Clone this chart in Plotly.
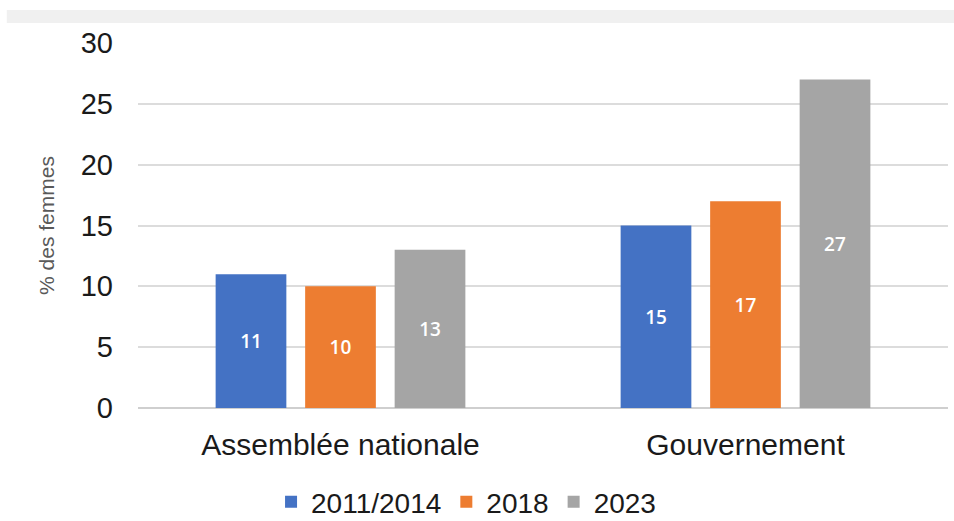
import plotly.graph_objects as go

categories = ["Assemblée nationale", "Gouvernement"]
series_names = ["2011/2014", "2018", "2023"]
values_2011_2014 = [11, 15]
values_2018 = [10, 17]
values_2023 = [13, 27]
colors = ["#4472C4", "#ED7D31", "#A5A5A5"]
y_ticks = [0, 5, 10, 15, 20, 25, 30]
y_title = "% des femmes"

fig = go.Figure()
for name, vals, col in zip(series_names, [values_2011_2014, values_2018, values_2023], colors):
    fig.add_trace(go.Bar(
        x=categories, y=vals, name=name, marker_color=col, marker_line_width=0,
        text=[str(v) for v in vals], textposition="inside", insidetextanchor="middle",
        textangle=0,
        textfont=dict(family="Open Sans", size=19, color="white", weight=600),
    ))

fig.add_shape(type="rect", xref="paper", yref="paper", x0=-0.162, x1=1.01, y0=1.0 + 20/365, y1=1.0 + 33/365,
              fillcolor="#f0f0f0", line_width=0, layer="below")

fig.update_layout(
    width=954, height=521,
    margin=dict(l=138, r=6, t=43, b=113, autoexpand=False),
    paper_bgcolor="white", plot_bgcolor="white",
    barmode="group", bargap=0.337, bargroupgap=0.21,
    font=dict(family="Liberation Sans, Arial", color="#1a1a1a"),
    showlegend=True,
    legend=dict(orientation="h", x=0.405, xanchor="center", y=-0.258, yanchor="middle",
                font=dict(size=28, color="#1a1a1a"), traceorder="normal",
                itemwidth=30),
)
fig.update_yaxes(
    range=[0, 30], tickvals=y_ticks, ticktext=[str(t) for t in y_ticks],
    tickfont=dict(size=29, color="#1a1a1a"), showgrid=True, gridcolor="#dcdcdc", gridwidth=2,
    zeroline=True, zerolinecolor="#cfcfcf", zerolinewidth=2,
    ticks="", ticklabelstandoff=24, automargin=False,
    title=dict(text=y_title, font=dict(size=21, color="#595959"), standoff=20),
)
fig.update_xaxes(
    tickfont=dict(size=30, color="#1a1a1a"), ticks="", showline=False,
    ticklabelstandoff=16, automargin=False,
)

fig.write_html("out.html")
